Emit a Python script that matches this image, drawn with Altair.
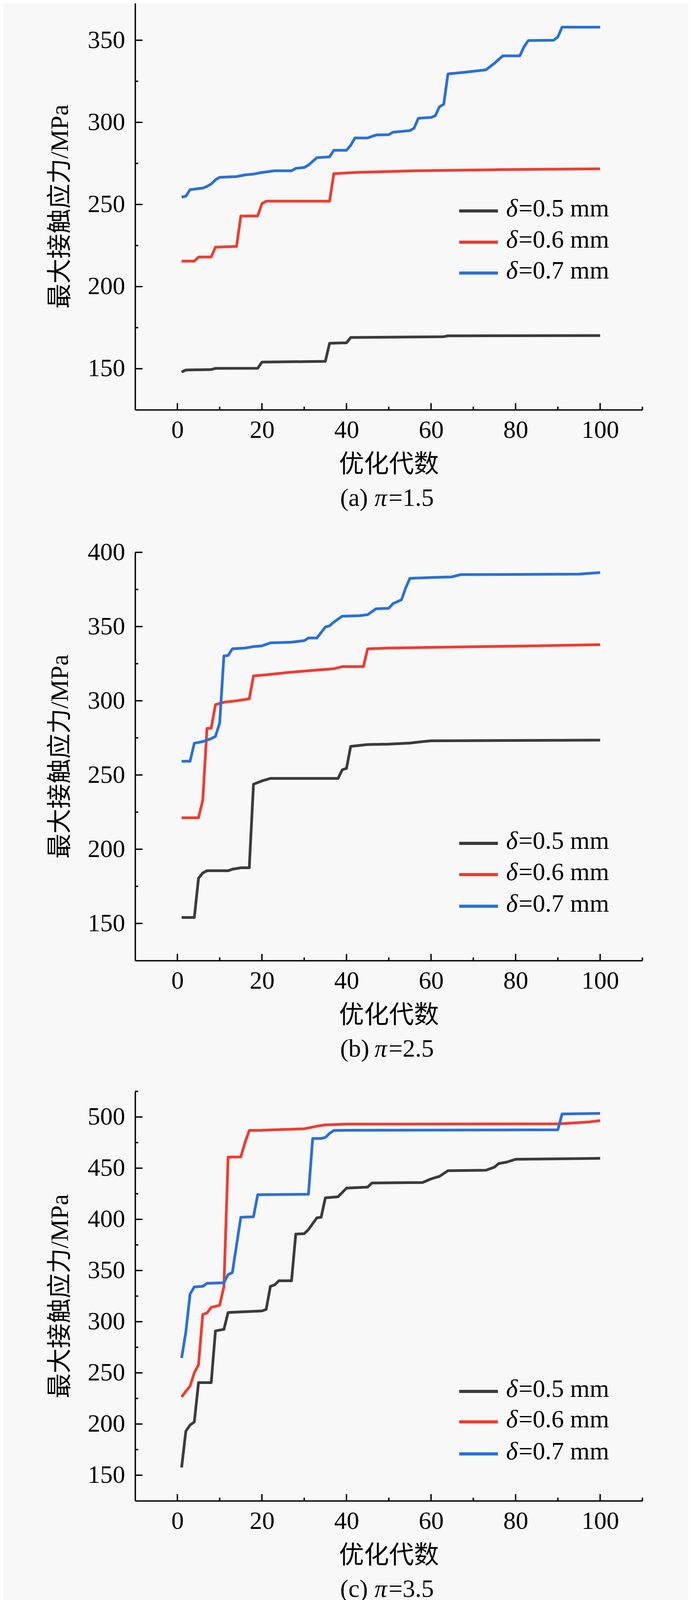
import altair as alt
import pandas as pd

# ---------------- data ----------------
SERIES = ["δ=0.5 mm", "δ=0.6 mm", "δ=0.7 mm"]
LEGEND_NUM = ["=0.5 mm", "=0.6 mm", "=0.7 mm"]
COLORS = ["#3b3b3b", "#f23a2f", "#2a6fdc"]

# (a) pi = 1.5
A05_GEN = [1, 2, 8, 9, 19, 20, 35, 36, 40, 41, 63, 64, 100]
A05_VAL = [148, 149.2, 149.5, 150.2, 150.3, 154, 154.5, 165.5, 165.8, 169, 169.5, 170, 170.2]
A06_GEN = [1, 4, 5, 8, 9, 14, 15, 19, 20, 21, 36, 37, 42, 56, 76, 100]
A06_VAL = [215.5, 215.5, 218, 218, 224, 224.5, 243, 243, 250.5, 252, 252, 268.7, 269.5, 270.5, 271.2, 271.7]
A07_GEN = [1, 2, 3, 6, 7, 8, 9, 10, 14, 16, 18, 20, 23, 27, 28, 30, 31, 33, 36, 37, 40, 41, 42, 45,
           47, 50, 51, 53, 55, 56, 57, 60, 61, 62, 63, 64, 68, 73, 75, 77, 81, 82, 83, 89, 90, 91, 100]
A07_VAL = [254.5, 255, 259, 260, 261, 262.5, 265, 266.5, 267, 268, 268.5, 269.5, 270.5, 270.5, 272,
           272.5, 274, 278.5, 279, 283, 283, 286, 290.5, 290.5, 292.3, 292.5, 294, 294.5, 295, 296.5,
           302.5, 303, 304, 309.5, 311, 329.5, 330.5, 332, 336, 340.5, 340.5, 346, 349.8, 350, 352,
           358, 358]

# (b) pi = 2.5
B05_GEN = [1, 4, 5, 6, 7, 12, 13, 15, 17, 18, 20, 22, 38, 39, 40, 41, 45, 50, 55, 58, 60, 100]
B05_VAL = [154, 154, 180.5, 184, 185.5, 185.5, 186.5, 187.5, 187.5, 243.8, 246, 247.7, 247.7, 253.5,
           254.5, 269.3, 270.5, 270.8, 271.5, 272.5, 273, 273.5]
B06_GEN = [1, 5, 6, 7, 8, 9, 11, 14, 17, 18, 21, 26, 30, 37, 39, 44, 45, 50, 60, 80, 100]
B06_VAL = [221.2, 221.2, 233, 281.4, 281.5, 297.4, 299, 300, 301.3, 316.8, 317.5, 319, 320, 321.6,
           323, 323, 335, 335.5, 336, 336.8, 337.8]
B07_GEN = [1, 3, 4, 6, 8, 9, 10, 11, 12, 13, 16, 18, 20, 22, 27, 30, 31, 33, 35, 36, 37, 39, 43, 45,
           47, 50, 51, 53, 54, 55, 60, 65, 67, 95, 100]
B07_VAL = [259.3, 259.3, 271.4, 272.5, 274.5, 276, 285, 330.2, 330.5, 335, 335.5, 336.5, 337, 339,
           339.5, 340.5, 342.3, 342.3, 349.7, 350.5, 353, 357, 357.3, 358, 362, 362.3, 365.5, 368,
           376, 382.5, 383, 383.5, 385, 385.3, 386.4]

# (c) pi = 3.5
C05_GEN = [1, 2, 3, 4, 5, 8, 9, 11, 12, 20, 21, 22, 23, 24, 27, 28, 30, 31, 33, 34, 35, 38, 40, 45,
           46, 58, 60, 62, 64, 73, 75, 76, 78, 80, 100]
C05_VAL = [157.6, 193, 199, 202, 240.5, 240.5, 291, 292.5, 309, 310.5, 312, 334.5, 336, 340, 340,
           385.6, 386, 390, 401.5, 402, 421, 422, 430.5, 431.5, 435.5, 436, 439.5, 442, 447.5, 448,
           451, 454.5, 456, 458.7, 459.6]
C06_GEN = [1, 2, 3, 4, 5, 6, 7, 8, 10, 11, 12, 15, 16, 17, 20, 25, 30, 33, 35, 40, 90, 93, 97, 100]
C06_VAL = [226.4, 232, 237, 250, 258, 307, 308.5, 314, 316, 334, 460.8, 461, 475, 486.8, 487, 487.8,
           488.5, 491, 492.3, 493, 493.3, 494, 495, 496.5]
C07_GEN = [1, 2, 3, 4, 6, 7, 11, 12, 13, 14, 15, 18, 19, 31, 32, 34, 35, 36, 37, 40, 90, 91, 100]
C07_VAL = [264.5, 290, 327, 334, 334.5, 337.5, 338, 346, 348, 375, 402, 402.5, 424, 424.5, 479, 479,
           480, 484, 486.8, 487, 487.5, 503, 503.5]

X_MAJOR = [0, 20, 40, 60, 80, 100]
X_MINOR = [10, 30, 50, 70, 90, 110]

PANELS = [
    dict(letter="(a)", pi="=1.5", ydom=[125, 372.6], height=1041,
         ymajor=[150, 200, 250, 300, 350], yminor=[175, 225, 275, 325],
         legend_y=[532, 612, 691], strip=(0, 333),
         series=[(A05_GEN, A05_VAL), (A06_GEN, A06_VAL), (A07_GEN, A07_VAL)]),
    dict(letter="(b)", pi="=2.5", ydom=[125, 400], height=1045,
         ymajor=[150, 200, 250, 300, 350, 400], yminor=[175, 225, 275, 325, 375],
         legend_y=[745, 825, 906], strip=(-32, 333),
         series=[(B05_GEN, B05_VAL), (B06_GEN, B06_VAL), (B07_GEN, B07_VAL)]),
    dict(letter="(c)", pi="=3.5", ydom=[125, 525], height=1048,
         ymajor=[150, 200, 250, 300, 350, 400, 450, 500], yminor=[175, 225, 275, 325, 375, 425, 475, 525],
         legend_y=[768, 846, 928], strip=(0, 255),
         series=[(C05_GEN, C05_VAL), (C06_GEN, C06_VAL), (C07_GEN, C07_VAL)]),
]

# ---------------- styling ----------------
W = 1299
SERIF = "Liberation Serif, Times New Roman, Noto Sans CJK SC"
FS = 64
AXW = 3.5
CAP_OFF = 246
BG = "#f8f8f8"


def text_layer(txt, x, y, italic=False, align="left"):
    return alt.Chart(pd.DataFrame({"k": [0]})).mark_text(
        text=txt, font=SERIF, fontSize=FS, fontStyle="italic" if italic else "normal",
        align=align, baseline="alphabetic", color="black"
    ).encode(x=alt.value(x), y=alt.value(y))


def make_panel(p):
    H = p["height"]
    rows = []
    for name, (gens, vals) in zip(SERIES, p["series"]):
        for g, v in zip(gens, vals):
            rows.append({"series": name, "gen": g, "val": v})
    df = pd.DataFrame(rows)

    xscale = alt.Scale(domain=[-10, 110], nice=False, zero=False)
    yscale = alt.Scale(domain=p["ydom"], nice=False, zero=False)
    xaxis = alt.Axis(values=X_MAJOR, ticks=False, tickSize=0, grid=False,
                     labelPadding=20, labelFont=SERIF, labelFontSize=FS, labelColor="black",
                     labelFlush=False, domainColor="black", domainWidth=AXW,
                     title="优化代数", titleFont=SERIF, titleFontSize=FS, titleFontWeight="normal",
                     titleColor="black", titlePadding=24)
    yaxis = alt.Axis(values=p["ymajor"], ticks=False, tickSize=0, grid=False,
                     labelPadding=26, labelFont=SERIF, labelFontSize=FS, labelColor="black",
                     labelFlush=False, domainColor="black", domainWidth=AXW,
                     title="最大接触应力/MPa", titleFont=SERIF, titleFontSize=FS,
                     titleFontWeight="normal", titleColor="black", titlePadding=38)

    X = alt.X("gen:Q", scale=xscale, axis=xaxis)
    Y = alt.Y("val:Q", scale=yscale, axis=yaxis)

    s0, s1 = p["strip"]
    layers = [
        # background strip so the page colour reaches the right edge
        alt.Chart(pd.DataFrame({"k": [0]})).mark_rect(color=BG)
        .encode(x=alt.value(W + 2), x2=alt.value(W + 118), y=alt.value(s0), y2=alt.value(H + s1))
    ]

    lines = alt.Chart(df).mark_line(strokeWidth=7, strokeJoin="round").encode(
        x=X, y=Y,
        color=alt.Color("series:N", scale=alt.Scale(domain=SERIES, range=COLORS), legend=None),
        detail="series:N",
    )
    layers.append(lines)

    # inward ticks
    layers.append(alt.Chart(pd.DataFrame({"gen": X_MAJOR})).mark_rule(strokeWidth=AXW, color="black")
                  .encode(x=X, y=alt.value(H), y2=alt.value(H - 17)))
    layers.append(alt.Chart(pd.DataFrame({"gen": X_MINOR})).mark_rule(strokeWidth=AXW, color="black")
                  .encode(x=X, y=alt.value(H), y2=alt.value(H - 8)))
    layers.append(alt.Chart(pd.DataFrame({"val": p["ymajor"]})).mark_rule(strokeWidth=AXW, color="black")
                  .encode(y=Y, x=alt.value(0), x2=alt.value(19)))
    layers.append(alt.Chart(pd.DataFrame({"val": p["yminor"]})).mark_rule(strokeWidth=AXW, color="black")
                  .encode(y=Y, x=alt.value(0), x2=alt.value(8)))

    # legend (manual, to keep the italic delta)
    for ly, col, num in zip(p["legend_y"], COLORS, LEGEND_NUM):
        layers.append(alt.Chart(pd.DataFrame({"k": [0]})).mark_rule(strokeWidth=8, color=col)
                      .encode(x=alt.value(830), x2=alt.value(929), y=alt.value(ly)))
        layers.append(text_layer("δ", 950, ly + 14, italic=True))
        layers.append(text_layer(num, 982, ly + 14))

    # caption
    cy = H + CAP_OFF
    layers.append(text_layer(p["letter"], 525, cy))
    layers.append(text_layer("π", 613, cy, italic=True))
    layers.append(text_layer(p["pi"], 649, cy))

    return alt.layer(*layers).properties(width=W, height=H)


chart = alt.vconcat(*[make_panel(p) for p in PANELS], spacing=0).properties(
    padding={"left": 114, "top": 0, "right": 0, "bottom": 0}
).configure(background=BG).configure_view(stroke=None)

chart.save("out.html", embed_options={"renderer": "svg", "actions": False})
